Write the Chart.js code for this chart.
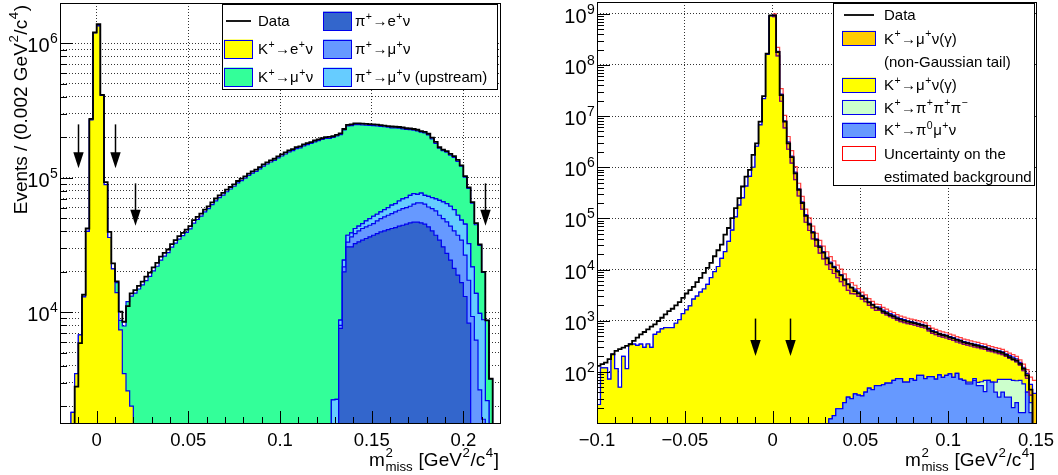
<!DOCTYPE html>
<html>
<head>
<meta charset="utf-8">
<script src="https://cdn.jsdelivr.net/npm/chart.js@4.4.1/dist/chart.umd.min.js"></script>
<style>
  html, body { margin: 0; padding: 0; background: #fff; }
  #wrap { position: relative; width: 1058px; height: 475px; }
  canvas { position: absolute; top: 0; }
</style>
</head>
<body>
<div id="wrap">
  <canvas id="left" width="529" height="475" style="left:0"></canvas>
  <canvas id="right" width="529" height="475" style="left:529px"></canvas>
</div>
<script>
// ---------- left panel: 120 bins of 0.002 from -0.02 ----------
const dataL = [
  0, 0, 0, 0, 2800, 5900, 13500, 42000, 275000, 1210000,
  1390000, 414000, 93000, 39600, 23100, 17000, 10100, 8500, 11100, 13800,
  14600, 15700, 16900, 18400, 19700, 21600, 23300, 25900, 27700, 29300,
  32100, 34400, 36800, 39000, 41200, 43700, 48400, 51200, 54200, 58100,
  61400, 65800, 70200, 74100, 77300, 81700, 85500, 89500, 94800, 98600,
  102600, 107400, 111700, 115100, 120200, 125900, 130300, 134900, 138700, 144500,
  149300, 154500, 160000, 163700, 169400, 171400, 177400, 181100, 184500, 189700,
  193200, 197200, 200900, 202000, 204000, 209000, 214000, 231000, 248000, 250000,
  254000, 254000, 253000, 252000, 251000, 250000, 249000, 247000, 245000, 243000,
  241000, 240000, 239000, 237000, 234000, 233000, 231000, 228000, 223000, 220000,
  213000, 199000, 185000, 169000, 162000, 158000, 151000, 145000, 136000, 124000,
  103000, 85000, 66000, 46000, 32000, 20000, 8700, 3200, 0, 0
];
const kenuL = [
  0, 0, 0, 1800, 3500, 6800, 13000, 40000, 270000, 1200000,
  1350000, 410000, 89000, 36000, 21000, 14000, 7400, 3500, 2600, 2000,
  0, 0, 0, 0, 0, 0, 0, 0, 0, 0,
  0, 0, 0, 0, 0, 0, 0, 0, 0, 0,
  0, 0, 0, 0, 0, 0, 0, 0, 0, 0,
  0, 0, 0, 0, 0, 0, 0, 0, 0, 0,
  0, 0, 0, 0, 0, 0, 0, 0, 0, 0,
  0, 0, 0, 0, 0, 0, 0, 0, 0, 0,
  0, 0, 0, 0, 0, 0, 0, 0, 0, 0,
  0, 0, 0, 0, 0, 0, 0, 0, 0, 0,
  0, 0, 0, 0, 0, 0, 0, 0, 0, 0,
  0, 0, 0, 0, 0, 0, 0, 0, 0, 0
];
const kmunuL = [
  0, 0, 0, 0, 0, 0, 0, 0, 0, 0,
  0, 0, 0, 0, 0, 2600, 1300, 4400, 9400, 11200,
  13900, 14900, 16000, 17200, 18500, 20300, 22000, 24400, 26200, 27800,
  30500, 32700, 35000, 37200, 39300, 41700, 46000, 49000, 52000, 55800,
  59000, 63200, 67500, 71400, 74500, 78800, 82600, 86600, 91800, 95500,
  99400, 104200, 108500, 111800, 116800, 122400, 126800, 131200, 135000, 140600,
  145400, 150500, 156000, 159700, 165300, 167300, 173200, 176900, 180300, 185500,
  189000, 193000, 196700, 197000, 198000, 203000, 201000, 203000, 206000, 206000,
  207000, 205000, 202000, 199000, 196000, 193000, 190000, 186000, 182000, 178000,
  173000, 171000, 167000, 162000, 158000, 154000, 150000, 148000, 142000, 142000,
  136000, 124000, 111000, 98000, 93000, 91000, 86000, 84000, 80000, 74000,
  56000, 51000, 43000, 31000, 21700, 11000, 6500, 3200, 0, 0
];
const pienuL = [
  0, 0, 0, 0, 0, 0, 0, 0, 0, 0,
  0, 0, 0, 0, 0, 0, 0, 0, 0, 0,
  0, 0, 0, 0, 0, 0, 0, 0, 0, 0,
  0, 0, 0, 0, 0, 0, 0, 0, 0, 0,
  0, 0, 0, 0, 0, 0, 0, 0, 0, 0,
  0, 0, 0, 0, 0, 0, 0, 0, 0, 0,
  0, 0, 0, 0, 0, 0, 0, 0, 0, 0,
  0, 0, 0, 0, 0, 0, 7600, 20000, 30700, 30700,
  32400, 33400, 34400, 35400, 36400, 37400, 38500, 39600, 40300, 41200,
  42000, 42700, 43700, 44400, 45200, 46200, 46800, 46800, 46200, 45200,
  43200, 40300, 37400, 34400, 30700, 27400, 24400, 21200, 18900, 16600,
  13100, 8300, 0, 0, 0, 0, 0, 0, 0, 0
];
const pimunuL = [
  0, 0, 0, 0, 0, 0, 0, 0, 0, 0,
  0, 0, 0, 0, 0, 0, 0, 0, 0, 0,
  0, 0, 0, 0, 0, 0, 0, 0, 0, 0,
  0, 0, 0, 0, 0, 0, 0, 0, 0, 0,
  0, 0, 0, 0, 0, 0, 0, 0, 0, 0,
  0, 0, 0, 0, 0, 0, 0, 0, 0, 0,
  0, 0, 0, 0, 0, 0, 0, 0, 0, 0,
  0, 0, 0, 0, 0, 0, 400, 1800, 2600, 5700,
  6100, 6900, 7600, 7800, 8000, 8300, 9400, 10200, 10900, 11500,
  12200, 13100, 13700, 14600, 14900, 15300, 16900, 18400, 19000, 18500,
  17500, 18700, 19400, 18300, 19100, 19600, 19300, 19100, 18500, 17800,
  13500, 9000, 9300, 6200, 2650, 1600, 0, 0, 0, 0
];
const upstreamL = [
  0, 0, 0, 0, 0, 0, 0, 0, 0, 0,
  0, 0, 0, 0, 0, 0, 0, 0, 0, 0,
  0, 0, 0, 0, 0, 0, 0, 0, 0, 0,
  0, 0, 0, 0, 0, 0, 0, 0, 0, 0,
  0, 0, 0, 0, 0, 0, 0, 0, 0, 0,
  0, 0, 0, 0, 0, 0, 0, 0, 0, 0,
  0, 0, 0, 0, 0, 0, 0, 0, 0, 0,
  0, 0, 0, 0, 2230, 2250, 750, 2600, 4100, 2600,
  3500, 3400, 3700, 4700, 5400, 6100, 5700, 6000, 6800, 7400,
  8400, 8500, 9900, 10700, 11200, 12700, 12600, 10200, 11900, 10500,
  12100, 12300, 12900, 15400, 16400, 17300, 17800, 17700, 15300, 14000,
  18600, 15100, 12500, 7600, 7150, 7200, 2200, 0, 0, 0
];
const xTicksL = [0, 0.05, 0.1, 0.15, 0.2];
const xTickLabelsL = ['0', '0.05', '0.1', '0.15', '0.2'];
const yPowersL = [4, 5, 6];

// ---------- right panel: 125 bins of 0.002 from -0.1 ----------
const dataR = [
  131, 141, 152, 177, 221, 256, 277, 298, 321, 346,
  402, 467, 542, 601, 678, 764, 849, 986, 1143, 1327,
  1542, 1714, 1991, 2312, 2805, 3404, 3954, 4592, 5662, 6887,
  8610, 10770, 13490, 18200, 23820, 30690, 48080, 64860, 101400, 158900,
  248900, 419800, 657700, 887200, 1740000, 2940000, 7760000, 24500000, 166000000, 929000000,
  929000000, 179000000, 25600000, 7760000, 2940000, 1580000, 760000, 363000, 200000, 112000,
  76000, 52500, 38000, 27500, 21400, 16600, 13200, 11000, 9120, 7670,
  6310, 5130, 4430, 3800, 3430, 3020, 2690, 2290, 2040, 1820,
  1700, 1510, 1410, 1290, 1216, 1109, 1047, 1000, 955, 923,
  895, 855, 818, 794, 692, 617, 589, 550, 525, 507,
  473, 452, 422, 405, 378, 365, 351, 335, 324, 309,
  301, 280, 270, 257, 247, 236, 214, 193, 178, 165,
  143, 115, 85, 45, 0
];
const kmunuR = [
  23, 120, 120, 72, 221, 116, 50, 200, 116, 347,
  347, 330, 347, 300, 350, 300, 540, 600, 690, 730,
  730, 730, 891, 1047, 1380, 1622, 1950, 2630, 3020, 3630,
  4170, 5130, 6920, 9120, 11480, 16600, 22400, 35500, 58900, 107000,
  182000, 251000, 427000, 661000, 1000000, 2570000, 6760000, 21900000, 160000000, 910000000,
  880000000, 150000000, 19500000, 5900000, 2250000, 1200000, 575000, 274000, 151000, 84000,
  58000, 39600, 28800, 20900, 16200, 12500, 10000, 8360, 6910, 5790,
  4800, 3880, 3340, 3300, 2950, 2600, 2310, 1950, 1740, 1540,
  1540, 1345, 1245, 1140, 1057, 952, 889, 857, 814, 772,
  751, 698, 662, 646, 549, 482, 463, 413, 399, 374,
  339, 332, 290, 297, 276, 270, 257, 232, 235, 220,
  207, 189, 185, 173, 156, 147, 129, 114, 103, 90,
  67, 47, 35, 10, 0
];
// non-Gaussian tail; the red uncertainty band sits this far above and below the stack
const tailR = [
  0, 0, 0, 0, 0, 0, 0, 0, 0, 0,
  0, 0, 0, 0, 0, 0, 0, 0, 0, 0,
  0, 0, 0, 0, 0, 0, 0, 0, 0, 0,
  0, 0, 0, 0, 0, 0, 0, 0, 0, 0,
  0, 0, 0, 0, 0, 0, 0, 0, 0, 0,
  60000000, 35000000, 7500000, 2200000, 870000, 460000, 225000, 106000, 59000, 34000,
  22000, 15400, 11200, 8100, 6300, 4900, 3900, 3200, 2650, 2200,
  1700, 1330, 1100, 800, 620, 500, 420, 350, 300, 260,
  240, 210, 190, 170, 160, 145, 135, 125, 120, 115,
  110, 105, 100, 95, 84, 75, 72, 66, 64, 61,
  57, 55, 52, 49, 46, 44, 42, 41, 40, 37,
  36, 34, 32, 31, 30, 29, 26, 24, 23, 22,
  18, 18, 18, 22, 30
];
const kmu3R = [
  0, 0, 0, 0, 0, 0, 0, 0, 0, 0,
  0, 0, 0, 0, 0, 0, 0, 0, 0, 0,
  0, 0, 0, 0, 0, 0, 0, 0, 0, 0,
  0, 0, 0, 0, 0, 0, 0, 0, 0, 0,
  0, 0, 0, 0, 0, 0, 0, 0, 0, 0,
  0, 0, 0, 0, 0, 0, 0, 0, 0, 0,
  0, 0, 0, 0, 0, 0, 12, 14, 19, 19,
  25, 32, 30, 37, 35, 34, 40, 48, 45, 54,
  54, 56, 60, 60, 68, 74, 74, 63, 63, 74,
  68, 85, 85, 74, 81, 81, 72, 87, 78, 85,
  91, 78, 93, 72, 68, 58, 58, 68, 54, 54,
  41, 68, 63, 40, 32, 40, 32, 32, 20, 25,
  16, 16, 40, 16, 8
];
const k3piR = [
  0, 0, 0, 0, 0, 0, 0, 0, 0, 0,
  0, 0, 0, 0, 0, 0, 0, 0, 0, 0,
  0, 0, 0, 0, 0, 0, 0, 0, 0, 0,
  0, 0, 0, 0, 0, 0, 0, 0, 0, 0,
  0, 0, 0, 0, 0, 0, 0, 0, 0, 0,
  0, 0, 0, 0, 0, 0, 0, 0, 0, 0,
  0, 0, 0, 0, 0, 0, 0, 0, 0, 0,
  0, 0, 0, 0, 0, 0, 0, 0, 0, 0,
  0, 0, 0, 0, 0, 0, 0, 0, 0, 0,
  0, 0, 0, 0, 0, 0, 0, 0, 0, 0,
  0, 0, 0, 0, 0, 5, 5, 6, 8, 10,
  27, 0, 0, 23, 39, 31, 39, 39, 48, 42,
  52, 42, 0, 9, 0
];
const xTicksR = [-0.1, -0.05, 0, 0.05, 0.1, 0.15];
const xTickLabelsR = ['\u22120.1', '\u22120.05', '0', '0.05', '0.1', '0.15'];
const yPowersR = [2, 3, 4, 5, 6, 7, 8, 9];

// ---------- helpers ----------
const FF = '"Liberation Sans", Arial, Helvetica, sans-serif';
const setFont = (ctx, sz) => { ctx.font = sz + 'px ' + FF; };
const sum = (...arrs) => arrs[0].map((_, i) => arrs.reduce((s, a) => s + a[i], 0));

function steps(lo, w, vals, floor) {
  const pts = vals.map((v, i) => ({ x: lo + i * w, y: v === null ? null : Math.max(v, floor) }));
  const last = vals[vals.length - 1];
  pts.push({ x: lo + vals.length * w, y: last === null ? null : Math.max(last, floor) });
  return pts;
}
function histSet(lo, w, vals, floor, fill, order) {
  return { data: steps(lo, w, vals, floor), stepped: true, fill: fill ? 'start' : false,
    backgroundColor: fill || 'transparent', borderColor: '#0000ee', borderWidth: 1.2,
    pointRadius: 0, order };
}
function lineSet(lo, w, vals, floor, color, width, order) {
  return { data: steps(lo, w, vals, floor), stepped: true, fill: false,
    borderColor: color, borderWidth: width, pointRadius: 0, order };
}

function richWidth(ctx, parts, sz) {
  let w = 0;
  for (const p of parts) {
    if (typeof p === 'string') { setFont(ctx, sz); w += ctx.measureText(p).width; }
    else {
      setFont(ctx, sz * 0.7);
      w += Math.max(p.u ? ctx.measureText(p.u).width : 0, p.d ? ctx.measureText(p.d).width : 0) + sz * 0.06;
    }
  }
  return w;
}
function richText(ctx, parts, x, y, sz, align) {
  let cx = x;
  if (align === 'right') cx -= richWidth(ctx, parts, sz);
  else if (align === 'center') cx -= richWidth(ctx, parts, sz) / 2;
  ctx.textAlign = 'left';
  ctx.textBaseline = 'alphabetic';
  ctx.fillStyle = '#000';
  for (const p of parts) {
    if (typeof p === 'string') {
      setFont(ctx, sz); ctx.fillText(p, cx, y); cx += ctx.measureText(p).width;
    } else {
      setFont(ctx, sz * 0.7);
      let w = 0;
      if (p.u) { ctx.fillText(p.u, cx + sz * 0.03, y - sz * 0.45); w = Math.max(w, ctx.measureText(p.u).width); }
      if (p.d) { ctx.fillText(p.d, cx + sz * 0.03, y + sz * 0.28); w = Math.max(w, ctx.measureText(p.d).width); }
      cx += w + sz * 0.06;
    }
  }
}

function arrow(ctx, x, yTop, yTip) {
  ctx.strokeStyle = '#000';
  ctx.lineWidth = 1.5;
  ctx.beginPath();
  ctx.moveTo(x, yTop);
  ctx.lineTo(x, yTip - 14);
  ctx.stroke();
  ctx.fillStyle = '#000';
  ctx.beginPath();
  ctx.moveTo(x - 5.2, yTip - 16);
  ctx.lineTo(x + 5.2, yTip - 16);
  ctx.lineTo(x, yTip);
  ctx.closePath();
  ctx.fill();
}

function drawLegend(ctx, lg) {
  ctx.fillStyle = '#fff';
  ctx.fillRect(lg.box[0], lg.box[1], lg.box[2], lg.box[3]);
  ctx.strokeStyle = '#000';
  ctx.lineWidth = 1;
  ctx.strokeRect(lg.box[0] + 0.5, lg.box[1] + 0.5, lg.box[2], lg.box[3]);
  for (const e of lg.entries) {
    const sx = lg.swX[e.col], sw = lg.swW, y = lg.rows[e.row];
    if (e.line) {
      ctx.strokeStyle = e.line; ctx.lineWidth = 1.8;
      ctx.beginPath(); ctx.moveTo(sx + 2, y); ctx.lineTo(sx + sw - 2, y); ctx.stroke();
    } else if (e.fill || e.edge) {
      ctx.fillStyle = e.fill || '#fff';
      ctx.fillRect(sx, y - lg.swH / 2, sw, lg.swH);
      ctx.strokeStyle = e.edge || '#0000ee'; ctx.lineWidth = 1;
      ctx.strokeRect(sx + 0.5, Math.round(y - lg.swH / 2) + 0.5, sw - 1, lg.swH - 1);
    }
    richText(ctx, e.text, lg.textX[e.col], y + 5.4, lg.size, 'left');
  }
}

function rootDecor(cfg) {
  return {
    id: 'rootDecor',
    afterDraw(chart) {
      const ctx = chart.ctx, a = chart.chartArea, xs = chart.scales.x, ys = chart.scales.y;
      ctx.save();
      // arrows
      for (const ar of cfg.arrows) {
        arrow(ctx, Math.round(xs.getPixelForValue(ar.x)) + 0.5, ys.getPixelForValue(ar.from), ys.getPixelForValue(ar.to));
      }
      // tick marks on the bottom and left axes, pointing inwards
      ctx.strokeStyle = '#000';
      ctx.lineWidth = 1;
      ctx.beginPath();
      for (let k = Math.ceil(xs.min / 0.01 - 1e-6); k <= Math.floor(xs.max / 0.01 + 1e-6); k++) {
        const px = Math.round(xs.getPixelForValue(k * 0.01)) + 0.5;
        const len = k % 5 === 0 ? 12 : 6;
        ctx.moveTo(px, a.bottom); ctx.lineTo(px, a.bottom - len);
      }
      for (let e = Math.floor(Math.log10(ys.min)); e <= Math.ceil(Math.log10(ys.max)); e++) {
        for (let m = 1; m <= 9; m++) {
          const v = m * Math.pow(10, e);
          if (v < ys.min || v > ys.max) continue;
          const py = Math.round(ys.getPixelForValue(v)) + 0.5;
          const len = m === 1 ? 13 : 7;
          ctx.moveTo(a.left, py); ctx.lineTo(a.left + len, py);
        }
      }
      ctx.stroke();
      ctx.strokeRect(Math.round(a.left) + 0.5, Math.round(a.top) + 0.5,
        Math.round(a.right) - Math.round(a.left), Math.round(a.bottom) - Math.round(a.top));
      // tick labels
      cfg.xTicks.forEach((v, i) => {
        richText(ctx, [cfg.xLabels[i]], xs.getPixelForValue(v), 446, 18.5, 'center');
      });
      cfg.yPowers.forEach(p => {
        const py = ys.getPixelForValue(Math.pow(10, p));
        richText(ctx, ['10', { u: String(p) }], a.left - 1.5, py + 9, 20, 'right');
      });
      // axis titles
      richText(ctx, ['m', { u: '2', d: 'miss' }, ' [GeV', { u: '2' }, '/c', { u: '4' }, ']'], a.right - 1, 466, 19, 'right');
      if (cfg.yTitle) {
        ctx.save();
        ctx.translate(27, a.top + 2);
        ctx.rotate(-Math.PI / 2);
        richText(ctx, cfg.yTitle, 0, 0, 19, 'right');
        ctx.restore();
      }
      drawLegend(ctx, cfg.legend);
      ctx.restore();
    }
  };
}

function axes(xmin, xmax, ymin, ymax, xGrid, yGrid) {
  const common = {
    bounds: 'data',
    ticks: { display: false },
    grid: { color: '#333', lineWidth: 1, drawTicks: false },
    border: { display: false, dash: [1, 2] }
  };
  return {
    x: Object.assign({}, common, {
      type: 'linear', min: xmin, max: xmax,
      afterBuildTicks: s => { s.ticks = xGrid.map(v => ({ value: v })); },
      afterFit: s => { s.height = 0; }
    }),
    y: Object.assign({}, common, {
      type: 'logarithmic', min: ymin, max: ymax,
      afterBuildTicks: s => { s.ticks = yGrid.map(v => ({ value: v })); },
      afterFit: s => { s.width = 0; }
    })
  };
}

const baseOptions = {
  responsive: false,
  devicePixelRatio: 1,
  animation: false,
  events: [],
  plugins: { legend: { display: false }, tooltip: { enabled: false } }
};

// ---------- left chart ----------
const loL = -0.02, wL = 0.002, floorL = 600;
const stackL1 = pienuL;
const stackL2 = sum(pienuL, pimunuL);
const stackL3 = sum(pienuL, pimunuL, upstreamL);
const stackL4 = sum(pienuL, pimunuL, upstreamL, kenuL);
const stackL5 = sum(pienuL, pimunuL, upstreamL, kenuL, kmunuL);

const gridYL = [];
[1000, 10000, 100000, 1000000].forEach(d => [1, 2, 3, 4, 5, 6, 7, 8, 9].forEach(m => {
  const v = m * d; if (v > 1500 && v < 2e6) gridYL.push(v);
}));

const K = (x) => ['K', { u: '+' }, x, { u: '+' }, 'ν'];
const P = (x, tail) => ['π', { u: '+' }, x, { u: '+' }, tail || 'ν'];

new Chart(document.getElementById('left'), {
  type: 'line',
  data: {
    datasets: [
      lineSet(loL, wL, dataL, floorL, '#000', 1.8, 0),
      histSet(loL, wL, stackL1, floorL, '#3366cc', 1),
      histSet(loL, wL, stackL2, floorL, '#6699ff', 2),
      histSet(loL, wL, stackL3, floorL, '#66ccff', 3),
      histSet(loL, wL, stackL4, floorL, '#ffff00', 4),
      histSet(loL, wL, stackL5, floorL, '#33ff99', 5)
    ]
  },
  options: Object.assign({}, baseOptions, {
    layout: { padding: { left: 60, right: 29, top: 3, bottom: 52 } },
    scales: axes(-0.02, 0.22, 1500, 2e6, xTicksL, gridYL)
  }),
  plugins: [rootDecor({
    xTicks: xTicksL, xLabels: xTickLabelsL, yPowers: yPowersL,
    yTitle: ['Events / (0.002 GeV', { u: '2' }, '/c', { u: '4' }, ')'],
    arrows: [
      { x: -0.01, from: 250000, to: 118000 },
      { x: 0.01, from: 250000, to: 118000 },
      { x: 0.021, from: 91000, to: 44000 },
      { x: 0.212, from: 91000, to: 44000 }
    ],
    legend: {
      box: [222, 4, 275, 85], size: 15,
      swX: [224, 323], swW: 29, swH: 19, textX: [258, 355], rows: [21, 49, 77],
      entries: [
        { col: 0, row: 0, line: '#000', text: ['Data'] },
        { col: 0, row: 1, fill: '#ffff00', text: K('→e') },
        { col: 0, row: 2, fill: '#33ff99', text: K('→μ') },
        { col: 1, row: 0, fill: '#3366cc', text: P('→e') },
        { col: 1, row: 1, fill: '#6699ff', text: P('→μ') },
        { col: 1, row: 2, fill: '#66ccff', text: P('→μ', 'ν (upstream)') }
      ]
    }
  })]
});

// ---------- right chart ----------
const loR = -0.1, wR = 0.002, floorR = 4;
const stackR1 = kmu3R;
const stackR2 = sum(kmu3R, k3piR);
const stackR3 = sum(kmu3R, k3piR, kmunuR);
const stackR4 = sum(kmu3R, k3piR, kmunuR, tailR);
const errUpR = stackR4.map((v, i) => tailR[i] > 0 ? v + tailR[i] : null);
const errDnR = stackR4.map((v, i) => tailR[i] > 0 ? v - tailR[i] : null);

new Chart(document.getElementById('right'), {
  type: 'line',
  data: {
    datasets: [
      lineSet(loR, wR, dataR, floorR, '#000', 1.8, 0),
      lineSet(loR, wR, errUpR, floorR, 'rgba(255,0,0,0.75)', 1.2, 1),
      lineSet(loR, wR, errDnR, floorR, 'rgba(255,0,0,0.55)', 1.2, 2),
      histSet(loR, wR, stackR1, floorR, '#6699ff', 3),
      histSet(loR, wR, stackR2, floorR, '#ccffcc', 4),
      histSet(loR, wR, stackR3, floorR, '#ffff00', 5),
      histSet(loR, wR, stackR4, floorR, '#ffcc00', 6)
    ]
  },
  options: Object.assign({}, baseOptions, {
    layout: { padding: { left: 68, right: 22, top: 2, bottom: 52 } },
    scales: axes(-0.1, 0.15, 10, 1.7e9, [-0.05, 0, 0.05, 0.1],
      [100, 1e3, 1e4, 1e5, 1e6, 1e7, 1e8, 1e9])
  }),
  plugins: [rootDecor({
    xTicks: xTicksR, xLabels: xTickLabelsR, yPowers: yPowersR,
    yTitle: null,
    arrows: [
      { x: -0.01, from: 1100, to: 204 },
      { x: 0.01, from: 1100, to: 204 }
    ],
    legend: {
      box: [304, 3, 201, 182], size: 15,
      swX: [313], swW: 34, swH: 15, textX: [355],
      rows: [15, 38.3, 61.7, 85, 107.3, 130, 153.3, 176.7],
      entries: [
        { col: 0, row: 0, line: '#000', text: ['Data'] },
        { col: 0, row: 1, fill: '#ffcc00', text: ['K', { u: '+' }, '→μ', { u: '+' }, 'ν(γ)'] },
        { col: 0, row: 2, text: ['(non-Gaussian tail)'] },
        { col: 0, row: 3, fill: '#ffff00', text: ['K', { u: '+' }, '→μ', { u: '+' }, 'ν(γ)'] },
        { col: 0, row: 4, fill: '#ccffcc', text: ['K', { u: '+' }, '→π', { u: '+' }, 'π', { u: '+' }, 'π', { u: '\u2212' }] },
        { col: 0, row: 5, fill: '#6699ff', text: ['K', { u: '+' }, '→π', { u: '0' }, 'μ', { u: '+' }, 'ν'] },
        { col: 0, row: 6, edge: '#ff0000', text: ['Uncertainty on the'] },
        { col: 0, row: 7, text: ['estimated background'] }
      ]
    }
  })]
});
</script>
</body>
</html>
